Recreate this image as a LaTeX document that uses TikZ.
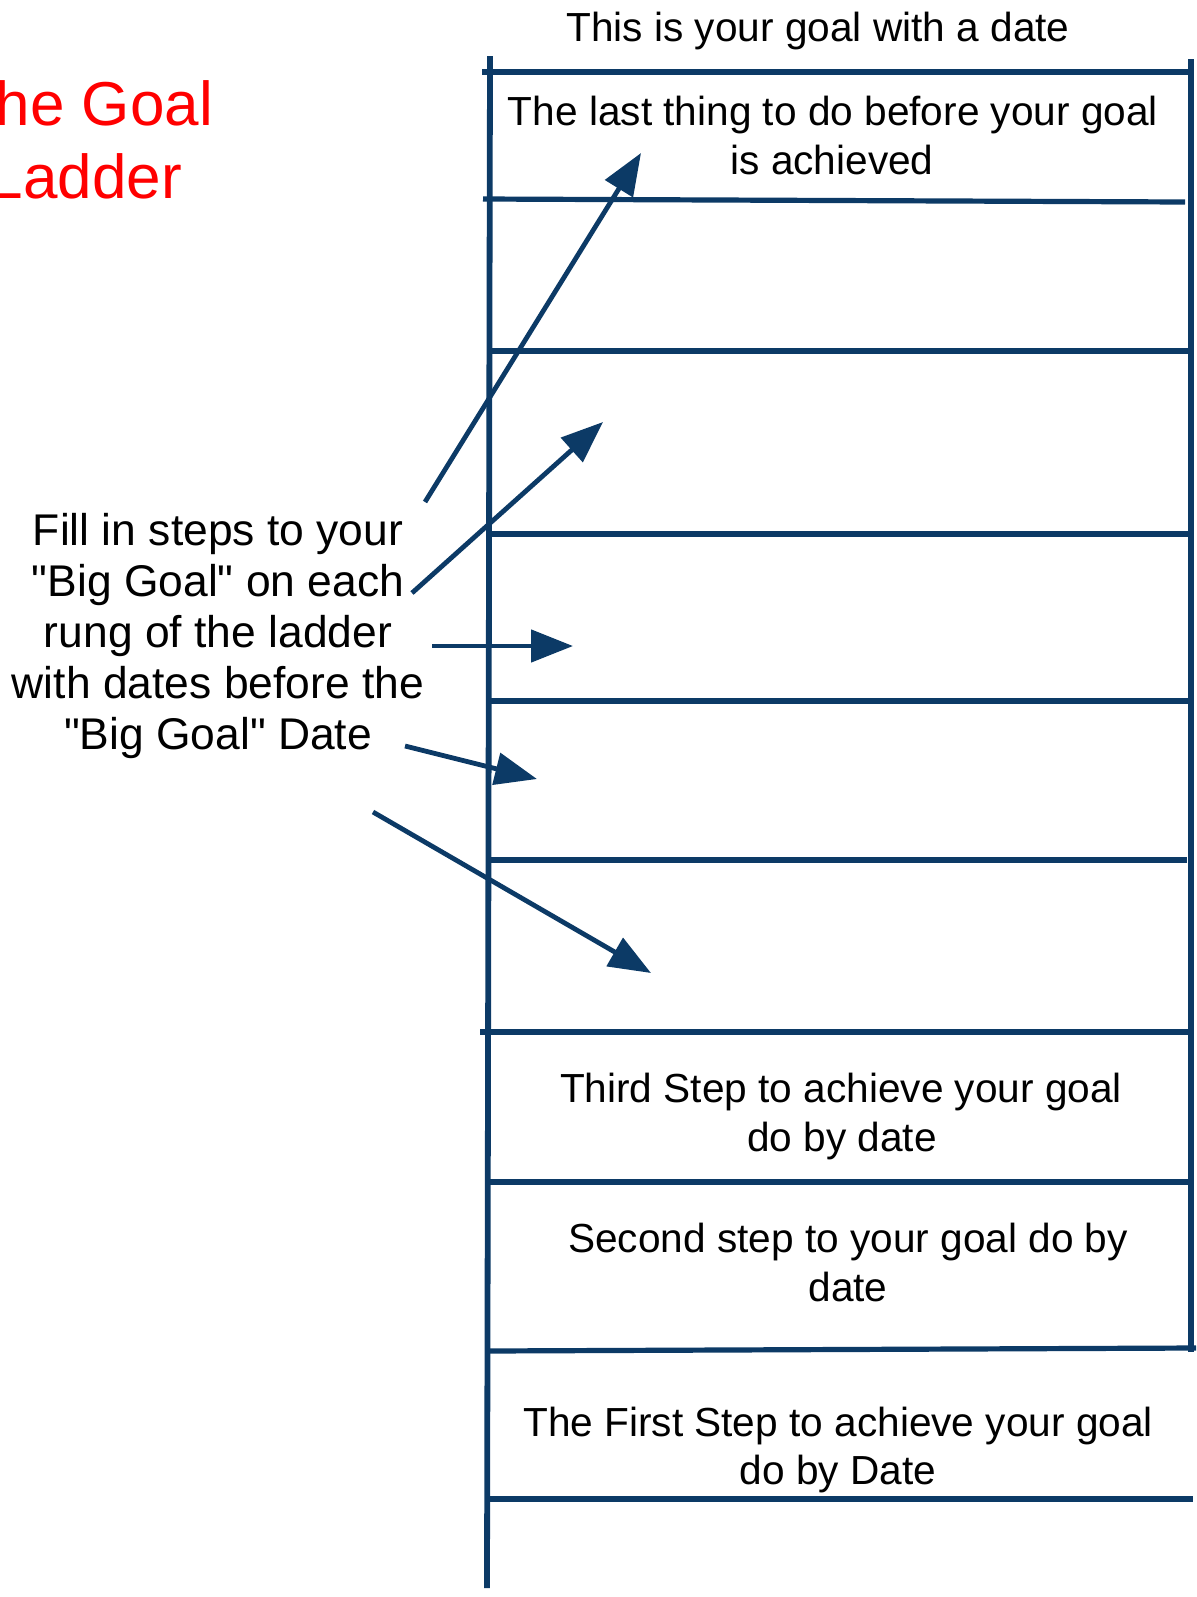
\documentclass[tikz,border=0pt]{standalone}
\usepackage{fontspec}
\setmainfont{Liberation Sans}[Ligatures=TeXOff]
\usetikzlibrary{arrows.meta}
\definecolor{ladderblue}{RGB}{12,58,102}
\definecolor{titlered}{RGB}{255,0,0}

\begin{document}
\begin{tikzpicture}[x=0.5pt,y=-0.5pt,
  rail/.style={draw=ladderblue,line width=2.9pt},
  rung/.style={draw=ladderblue,line width=2.6pt},
  pointer/.style={draw=ladderblue,line width=2.4pt,
    -{Triangle[length=21pt,width=16pt]}},
  steptext/.style={anchor=base,inner sep=0pt,font=\fontsize{20.3}{24}\selectfont},
  filltext/.style={anchor=base,inner sep=0pt,font=\fontsize{22.2}{26}\selectfont},
  titletext/.style={anchor=base,inner sep=0pt,text=titlered,font=\fontsize{31}{37}\selectfont}]
\useasboundingbox (0,0) rectangle (1196,1597);

% ladder rails
\draw[rail] (490,56) -- (487,1588);
\draw[rail] (1191,59) -- (1191,1352);

% ladder rungs, top to bottom
\draw[rung] (482,72) -- (1191,72);
\draw[rung] (483,199) -- (1185,202);
\draw[rung] (488,351) -- (1191,351);
\draw[rung] (488,534) -- (1191,534);
\draw[rung] (488,701) -- (1191,701);
\draw[rung] (488,860) -- (1187,860);
\draw[rung] (480,1032) -- (1191,1032);
\draw[rung] (488,1182) -- (1191,1182);
\draw[rung] (488,1351) -- (1196,1348);
\draw[rung] (488,1499) -- (1193,1499);

% title
\node[titletext] (title1) at (85.5,125) {The Goal};
\node[titletext] (title2) at (85.5,198) {Ladder};

% goal above the ladder
\node[steptext] (goal) at (818,41) {This is your goal with a date};

% rung labels
\node[steptext] (last1) at (833,125) {The last thing to do before your goal};
\node[steptext] (last2) at (832,174) {is achieved};
\node[steptext] (third1) at (841,1102) {Third Step to achieve your goal};
\node[steptext] (third2) at (842,1151) {do by date};
\node[steptext] (second1) at (848,1252) {Second step to your goal do by};
\node[steptext] (second2) at (848,1301) {date};
\node[steptext] (first1) at (838,1436) {The First Step to achieve your goal};
\node[steptext] (first2) at (838,1484) {do by Date};

% instruction text
\node[filltext] (fill1) at (218,545) {Fill in steps to your};
\node[filltext] (fill2) at (218,596) {"Big Goal" on each};
\node[filltext] (fill3) at (218,647) {rung of the ladder};
\node[filltext] (fill4) at (218,698) {with dates before the};
\node[filltext] (fill5) at (218,749) {"Big Goal" Date};

% pointer arrows from the instructions into the rungs
\coordinate (a1s) at (425,502);
\coordinate (a1e) at (641,153);
\coordinate (a2s) at (412,593);
\coordinate (a2e) at (603,422);
\coordinate (a3s) at (432,646);
\coordinate (a3e) at (573,646);
\coordinate (a4s) at (405,746);
\coordinate (a4e) at (537,779);
\coordinate (a5s) at (373,812);
\coordinate (a5e) at (651,973);
\draw[pointer] (a1s) -- (a1e);
\draw[pointer] (a2s) -- (a2e);
\draw[pointer] (a3s) -- (a3e);
\draw[pointer] (a4s) -- (a4e);
\draw[pointer] (a5s) -- (a5e);
\end{tikzpicture}
\end{document}
